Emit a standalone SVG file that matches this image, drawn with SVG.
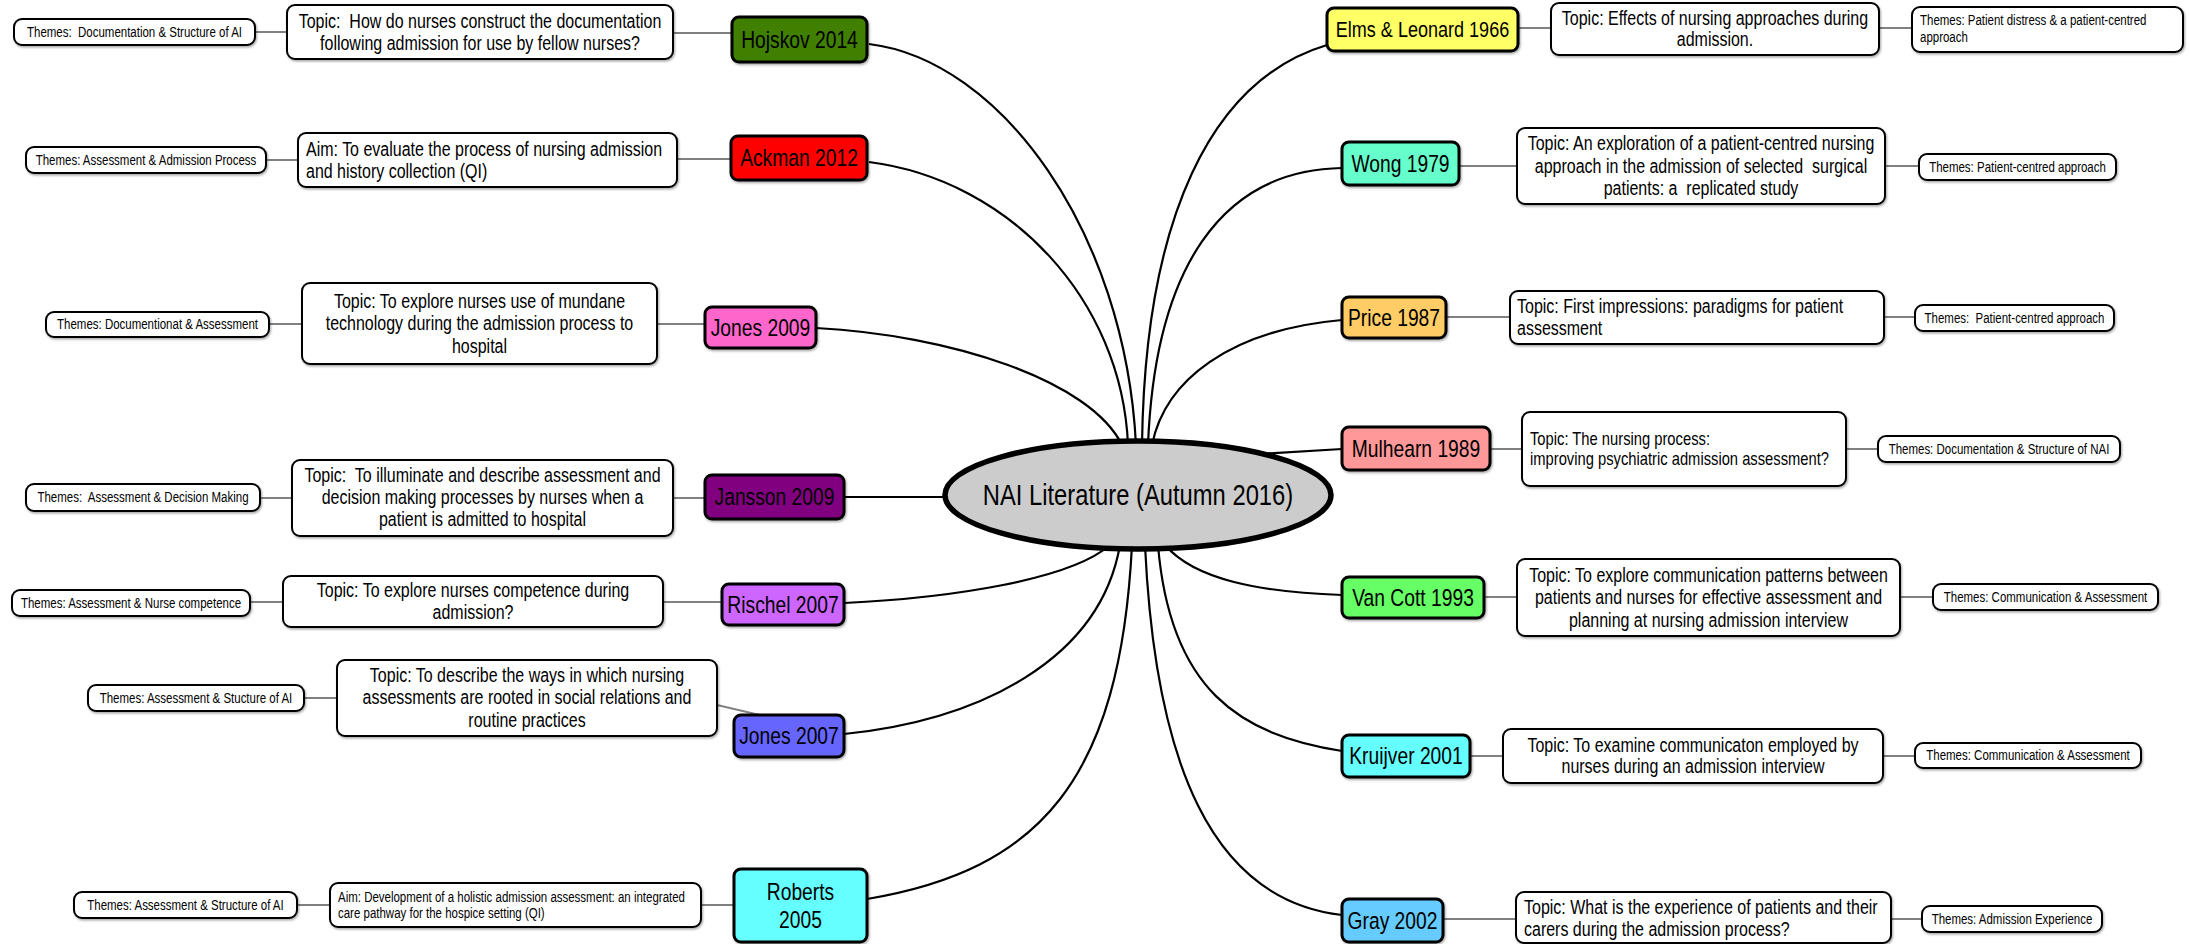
<svg xmlns="http://www.w3.org/2000/svg" width="2190" height="944" viewBox="0 0 2190 944">
<defs>
<filter id="sh" x="-5%" y="-10%" width="110%" height="130%">
<feDropShadow dx="1" dy="1.5" stdDeviation="0.8" flood-color="#000" flood-opacity="0.35"/>
</filter>
<style>
.t{font-family:"Liberation Sans",Arial,Helvetica,sans-serif;fill:#000}
.yr{font-size:23.5px;text-anchor:middle}
.tp{font-size:19.5px}
.th{font-size:14px}
.c{text-anchor:middle}
.box{fill:#fff;stroke:#000;stroke-width:2;filter:url(#sh)}
.yb{stroke:#000;stroke-width:3;filter:url(#sh)}
.link{fill:none;stroke:#000;stroke-width:2.2}
.sub{fill:none;stroke:#808080;stroke-width:2}
</style>
</defs>
<rect width="2190" height="944" fill="#fff"/>

<g id="connectors">
<!-- branches from the central topic -->
<path class="link" d="M869,44 C1000,60 1125,230 1136,445"/>
<path class="link" d="M869,162 C1010,180 1122,300 1128,445"/>
<path class="link" d="M816,328 C950,335 1090,380 1122,445"/>
<path class="link" d="M844,497 L948,497"/>
<path class="link" d="M844,603 C950,598 1070,580 1110,545"/>
<path class="link" d="M844,734 C980,720 1100,660 1120,545"/>
<path class="link" d="M867,899 C1040,870 1120,780 1132,545"/>
<path class="link" d="M1327,45 C1210,80 1145,220 1142,445"/>
<path class="link" d="M1342,168 C1220,170 1155,270 1148,445"/>
<path class="link" d="M1342,320 C1230,330 1165,380 1152,445"/>
<path class="link" d="M1342,449 L1258,454"/>
<path class="link" d="M1342,595 C1260,592 1195,580 1165,545"/>
<path class="link" d="M1342,751 C1240,735 1170,690 1158,545"/>
<path class="link" d="M1342,915 C1210,900 1155,760 1145,545"/>
<!-- topic and theme links -->
<path class="sub" d="M255,32 H287 M673,33 H732"/>
<path class="sub" d="M266,160 H298 M677,159 H731"/>
<path class="sub" d="M269,324 H302 M657,324 H705"/>
<path class="sub" d="M260,498 H292 M673,498 H705"/>
<path class="sub" d="M250,602 H283 M663,602 H722"/>
<path class="sub" d="M304,698 H337 M717,705 L790,722"/>
<path class="sub" d="M297,905 H330 M701,905 H734"/>
<path class="sub" d="M1518,28 H1551 M1879,28 H1912"/>
<path class="sub" d="M1459,166 H1517 M1885,166 H1919"/>
<path class="sub" d="M1446,317 H1510 M1884,317 H1915"/>
<path class="sub" d="M1490,449 H1522 M1846,449 H1878"/>
<path class="sub" d="M1484,597 H1517 M1900,597 H1933"/>
<path class="sub" d="M1470,756 H1503 M1883,756 H1915"/>
<path class="sub" d="M1443,919 H1516 M1891,919 H1922"/>
</g>

<g id="centre">
<ellipse cx="1138" cy="495" rx="193" ry="54" fill="#cccccc" stroke="#000" stroke-width="5.5"/>
<text class="t c" style="font-size:29px" transform="translate(1138 0) scale(.82 1)" y="505">NAI Literature (Autumn 2016)</text>
</g>

<!-- left branches -->
<g id="hojskov">
<rect class="yb" x="732" y="17" width="135" height="45" rx="7" fill="#3f7f00"/>
<text class="t yr" transform="translate(799.5 0) scale(.82 1)" y="48">Hojskov 2014</text>
</g>
<g id="hojskov-topic">
<rect class="box" x="287" y="5" width="386" height="54" rx="8"/>
<text class="t tp c" xml:space="preserve" transform="translate(480 0) scale(.82 1)"><tspan x="0" y="28.5">Topic:  How do nurses construct the documentation</tspan><tspan x="0" y="50">following admission for use by fellow nurses?</tspan></text>
</g>
<g id="hojskov-themes">
<rect class="box" x="14" y="19" width="241" height="26" rx="8"/>
<text class="t th c" xml:space="preserve" transform="translate(134.5 0) scale(.82 1)" y="37">Themes:  Documentation &amp; Structure of AI</text>
</g>

<g id="ackman">
<rect class="yb" x="731" y="136" width="136" height="44" rx="7" fill="#ff0000"/>
<text class="t yr" transform="translate(799 0) scale(.82 1)" y="166.4">Ackman 2012</text>
</g>
<g id="ackman-topic">
<rect class="box" x="298" y="133" width="379" height="54" rx="8"/>
<text class="t tp" transform="translate(306 0) scale(.82 1)"><tspan x="0" y="156.5">Aim: To evaluate the process of nursing admission</tspan><tspan x="0" y="178.5">and history collection (QI)</tspan></text>
</g>
<g id="ackman-themes">
<rect class="box" x="26" y="147" width="240" height="26" rx="8"/>
<text class="t th c" transform="translate(146 0) scale(.82 1)" y="165">Themes: Assessment &amp; Admission Process</text>
</g>

<g id="jones2009">
<rect class="yb" x="705" y="307" width="111" height="41" rx="7" fill="#ff66cc"/>
<text class="t yr" transform="translate(760.5 0) scale(.82 1)" y="336">Jones 2009</text>
</g>
<g id="jones2009-topic">
<rect class="box" x="302" y="283" width="355" height="81" rx="8"/>
<text class="t tp c" transform="translate(479.5 0) scale(.82 1)"><tspan x="0" y="308">Topic: To explore nurses use of mundane</tspan><tspan x="0" y="330.5">technology during the admission process to</tspan><tspan x="0" y="353">hospital</tspan></text>
</g>
<g id="jones2009-themes">
<rect class="box" x="46" y="312" width="223" height="25" rx="8"/>
<text class="t th c" transform="translate(157.5 0) scale(.82 1)" y="329.5">Themes: Documentionat &amp; Assessment</text>
</g>

<g id="jansson">
<rect class="yb" x="705" y="475" width="139" height="44" rx="7" fill="#800080"/>
<text class="t yr" transform="translate(774.5 0) scale(.82 1)" y="505.4">Jansson 2009</text>
</g>
<g id="jansson-topic">
<rect class="box" x="292" y="460" width="381" height="76" rx="8"/>
<text class="t tp c" xml:space="preserve" transform="translate(482.5 0) scale(.82 1)"><tspan x="0" y="482.5">Topic:  To illuminate and describe assessment and</tspan><tspan x="0" y="504.5">decision making processes by nurses when a</tspan><tspan x="0" y="526.5">patient is admitted to hospital</tspan></text>
</g>
<g id="jansson-themes">
<rect class="box" x="26" y="484" width="234" height="27" rx="8"/>
<text class="t th c" xml:space="preserve" transform="translate(143 0) scale(.82 1)" y="502.5">Themes:  Assessment &amp; Decision Making</text>
</g>

<g id="rischel">
<rect class="yb" x="722" y="584" width="122" height="41" rx="7" fill="#cc66ff"/>
<text class="t yr" transform="translate(783 0) scale(.82 1)" y="613">Rischel 2007</text>
</g>
<g id="rischel-topic">
<rect class="box" x="283" y="576" width="380" height="51" rx="8"/>
<text class="t tp c" transform="translate(473 0) scale(.82 1)"><tspan x="0" y="597.5">Topic: To explore nurses competence during</tspan><tspan x="0" y="619.5">admission?</tspan></text>
</g>
<g id="rischel-themes">
<rect class="box" x="12" y="590" width="238" height="26" rx="8"/>
<text class="t th c" transform="translate(131 0) scale(.82 1)" y="608">Themes: Assessment &amp; Nurse competence</text>
</g>

<g id="jones2007">
<rect class="yb" x="734" y="715" width="110" height="42" rx="7" fill="#6666ff"/>
<text class="t yr" transform="translate(789 0) scale(.82 1)" y="744.4">Jones 2007</text>
</g>
<g id="jones2007-topic">
<rect class="box" x="337" y="660" width="380" height="76" rx="8"/>
<text class="t tp c" transform="translate(527 0) scale(.82 1)"><tspan x="0" y="682">Topic: To describe the ways in which nursing</tspan><tspan x="0" y="704.5">assessments are rooted in social relations and</tspan><tspan x="0" y="727">routine practices</tspan></text>
</g>
<g id="jones2007-themes">
<rect class="box" x="88" y="685" width="216" height="26" rx="8"/>
<text class="t th c" transform="translate(196 0) scale(.82 1)" y="703">Themes: Assessment &amp; Stucture of AI</text>
</g>

<g id="roberts">
<rect class="yb" x="734" y="869" width="133" height="73" rx="7" fill="#66ffff"/>
<text class="t yr" transform="translate(800.5 0) scale(.82 1)"><tspan x="0" y="900">Roberts</tspan><tspan x="0" y="928">2005</tspan></text>
</g>
<g id="roberts-topic">
<rect class="box" x="330" y="883" width="371" height="44" rx="8"/>
<text class="t th" transform="translate(338 0) scale(.82 1)"><tspan x="0" y="902">Aim: Development of a holistic admission assessment: an integrated</tspan><tspan x="0" y="918">care pathway for the hospice setting (QI)</tspan></text>
</g>
<g id="roberts-themes">
<rect class="box" x="74" y="892" width="223" height="26" rx="8"/>
<text class="t th c" transform="translate(185.5 0) scale(.82 1)" y="910">Themes: Assessment &amp; Structure of AI</text>
</g>

<!-- right branches -->
<g id="elms">
<rect class="yb" x="1327" y="8" width="191" height="43" rx="7" fill="#ffff66"/>
<text class="t yr" style="font-size:22px" transform="translate(1422.5 0) scale(.82 1)" y="37.4">Elms &amp; Leonard 1966</text>
</g>
<g id="elms-topic">
<rect class="box" x="1551" y="3" width="328" height="52" rx="8"/>
<text class="t tp c" transform="translate(1715 0) scale(.82 1)"><tspan x="0" y="25.5">Topic: Effects of nursing approaches during</tspan><tspan x="0" y="46.5">admission.</tspan></text>
</g>
<g id="elms-themes">
<rect class="box" x="1912" y="7" width="271" height="45" rx="8"/>
<text class="t th" transform="translate(1920 0) scale(.82 1)"><tspan x="0" y="25.5">Themes: Patient distress &amp; a patient-centred</tspan><tspan x="0" y="42">approach</tspan></text>
</g>

<g id="wong">
<rect class="yb" x="1342" y="142" width="117" height="43" rx="7" fill="#66ffcc"/>
<text class="t yr" transform="translate(1400.5 0) scale(.82 1)" y="172">Wong 1979</text>
</g>
<g id="wong-topic">
<rect class="box" x="1517" y="128" width="368" height="76" rx="8"/>
<text class="t tp c" xml:space="preserve" transform="translate(1701 0) scale(.82 1)"><tspan x="0" y="150.5">Topic: An exploration of a patient-centred nursing</tspan><tspan x="0" y="173">approach in the admission of selected  surgical</tspan><tspan x="0" y="195.5">patients: a  replicated study</tspan></text>
</g>
<g id="wong-themes">
<rect class="box" x="1919" y="154" width="197" height="26" rx="8"/>
<text class="t th c" transform="translate(2017.5 0) scale(.82 1)" y="172">Themes: Patient-centred approach</text>
</g>

<g id="price">
<rect class="yb" x="1342" y="297" width="104" height="41" rx="7" fill="#ffcc66"/>
<text class="t yr" transform="translate(1394 0) scale(.82 1)" y="326">Price 1987</text>
</g>
<g id="price-topic">
<rect class="box" x="1510" y="291" width="374" height="53" rx="8"/>
<text class="t tp" transform="translate(1517 0) scale(.82 1)"><tspan x="0" y="313">Topic: First impressions: paradigms for patient</tspan><tspan x="0" y="335">assessment</tspan></text>
</g>
<g id="price-themes">
<rect class="box" x="1915" y="305" width="199" height="26" rx="8"/>
<text class="t th c" xml:space="preserve" transform="translate(2014.5 0) scale(.82 1)" y="323">Themes:  Patient-centred approach</text>
</g>

<g id="mulhearn">
<rect class="yb" x="1342" y="427" width="148" height="43" rx="7" fill="#ff9999"/>
<text class="t yr" transform="translate(1416 0) scale(.82 1)" y="457">Mulhearn 1989</text>
</g>
<g id="mulhearn-topic">
<rect class="box" x="1522" y="412" width="324" height="74" rx="8"/>
<text class="t" style="font-size:18px" transform="translate(1530 0) scale(.82 1)"><tspan x="0" y="445.5">Topic: The nursing process:</tspan><tspan x="0" y="465.5">improving psychiatric admission assessment?</tspan></text>
</g>
<g id="mulhearn-themes">
<rect class="box" x="1878" y="436" width="242" height="26" rx="8"/>
<text class="t th c" transform="translate(1999 0) scale(.82 1)" y="454">Themes: Documentation &amp; Structure of NAI</text>
</g>

<g id="vancott">
<rect class="yb" x="1342" y="577" width="142" height="41" rx="7" fill="#66ff66"/>
<text class="t yr" transform="translate(1413 0) scale(.82 1)" y="606">Van Cott 1993</text>
</g>
<g id="vancott-topic">
<rect class="box" x="1517" y="559" width="383" height="77" rx="8"/>
<text class="t tp c" transform="translate(1708.5 0) scale(.82 1)"><tspan x="0" y="582">Topic: To explore communication patterns between</tspan><tspan x="0" y="604.5">patients and nurses for effective assessment and</tspan><tspan x="0" y="627">planning at nursing admission interview</tspan></text>
</g>
<g id="vancott-themes">
<rect class="box" x="1933" y="584" width="225" height="26" rx="8"/>
<text class="t th c" transform="translate(2045.5 0) scale(.82 1)" y="602">Themes: Communication &amp; Assessment</text>
</g>

<g id="kruijver">
<rect class="yb" x="1342" y="735" width="128" height="42" rx="7" fill="#66ffff"/>
<text class="t yr" transform="translate(1406 0) scale(.82 1)" y="764.4">Kruijver 2001</text>
</g>
<g id="kruijver-topic">
<rect class="box" x="1503" y="729" width="380" height="54" rx="8"/>
<text class="t tp c" transform="translate(1693 0) scale(.82 1)"><tspan x="0" y="752.5">Topic: To examine communicaton employed by</tspan><tspan x="0" y="773.5">nurses during an admission interview</tspan></text>
</g>
<g id="kruijver-themes">
<rect class="box" x="1915" y="743" width="226" height="25" rx="8"/>
<text class="t th c" transform="translate(2028 0) scale(.82 1)" y="760.5">Themes: Communication &amp; Assessment</text>
</g>

<g id="gray">
<rect class="yb" x="1342" y="899" width="101" height="43" rx="7" fill="#66ccff"/>
<text class="t yr" transform="translate(1392.5 0) scale(.82 1)" y="929">Gray 2002</text>
</g>
<g id="gray-topic">
<rect class="box" x="1516" y="892" width="375" height="51" rx="8"/>
<text class="t tp" transform="translate(1524 0) scale(.82 1)"><tspan x="0" y="914">Topic: What is the experience of patients and their</tspan><tspan x="0" y="936">carers during the admission process?</tspan></text>
</g>
<g id="gray-themes">
<rect class="box" x="1922" y="906" width="180" height="26" rx="8"/>
<text class="t th c" transform="translate(2012 0) scale(.82 1)" y="924">Themes: Admission Experience</text>
</g>
</svg>
